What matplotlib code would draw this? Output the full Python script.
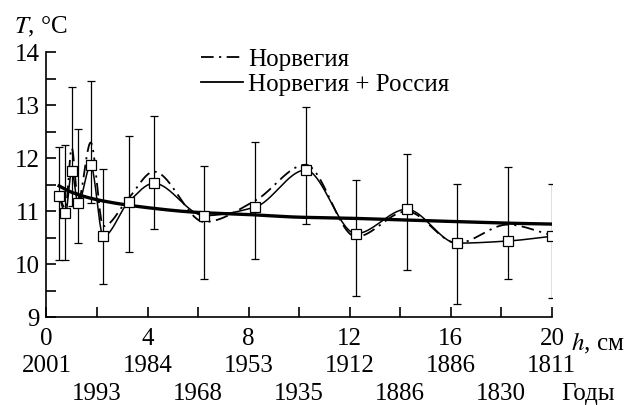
import numpy as np
import matplotlib
matplotlib.use("Agg")
import matplotlib.pyplot as plt
from matplotlib.ticker import MultipleLocator
from matplotlib.lines import Line2D

plt.rcParams['font.family'] = ['Liberation Serif', 'DejaVu Serif']
plt.rcParams['mathtext.fontset'] = 'stix'

# --- data ---
depth_cm = [0.5, 0.75, 1.0, 1.25, 1.75, 2.25, 3.25, 4.25, 6.25, 8.25, 10.25, 12.25, 14.25, 16.25, 18.25, 20.0]
temp_nor_rus = [11.29, 10.96, 11.76, 11.15, 11.87, 10.53, 11.18, 11.53, 10.92, 11.08, 11.78, 10.58, 11.04, 10.40, 10.44, 10.53]
err_low = [10.08, 10.09, 11.10, 10.41, 11.15, 9.63, 10.23, 10.67, 9.72, 10.11, 10.76, 9.41, 9.90, 9.26, 9.72, 9.37]
err_high = [12.22, 12.25, 13.34, 12.55, 13.46, 11.80, 12.43, 12.80, 11.85, 12.31, 12.97, 11.60, 12.08, 11.51, 11.84, 11.51]
temp_nor = [11.30, 11.05, 12.20, 11.20, 12.30, 10.72, 11.25, 11.75, 10.80, 11.20, 11.88, 10.52, 11.00, 10.40, 10.75, 10.55]

trend_x = [0.5, 1, 2, 4, 6, 8, 10, 12, 14, 16, 18, 20]
trend_t = [11.48, 11.36, 11.22, 11.07, 10.98, 10.94, 10.89, 10.87, 10.84, 10.81, 10.78, 10.76]

tick_pos = [0, 4, 8, 12, 16, 20]
years_row1 = ["2001", "1984", "1953", "1912", "1886", "1811"]
mid_pos = [2, 6, 10, 14, 18]
years_row2 = ["1993", "1968", "1935", "1886", "1830"]

FS = 18


def smooth(x, y, n=800):
    # monotone cubic (PCHIP-style) curve through the nodes, for drawing only
    x = np.asarray(x, float)
    y = np.asarray(y, float)
    h = np.diff(x)
    d = np.diff(y) / h
    m = np.zeros_like(y)
    for i in range(1, len(x) - 1):
        if d[i - 1] * d[i] > 0:
            w1 = 2 * h[i] + h[i - 1]
            w2 = h[i] + 2 * h[i - 1]
            m[i] = (w1 + w2) / (w1 / d[i - 1] + w2 / d[i])
    m[0] = d[0]
    m[-1] = d[-1]
    xs = np.linspace(x[0], x[-1], n)
    idx = np.clip(np.searchsorted(x, xs) - 1, 0, len(x) - 2)
    t = (xs - x[idx]) / h[idx]
    h00 = 2 * t ** 3 - 3 * t ** 2 + 1
    h10 = t ** 3 - 2 * t ** 2 + t
    h01 = -2 * t ** 3 + 3 * t ** 2
    h11 = t ** 3 - t ** 2
    ys = h00 * y[idx] + h10 * h[idx] * m[idx] + h01 * y[idx + 1] + h11 * h[idx] * m[idx + 1]
    return xs, ys


fig = plt.figure(figsize=(6.43, 4.05), dpi=100)
ax = fig.add_axes([0.0723, 0.2165, 0.786, 0.654])

yerr = [np.array(temp_nor_rus) - np.array(err_low), np.array(err_high) - np.array(temp_nor_rus)]
ax.errorbar(depth_cm, temp_nor_rus, yerr=yerr, fmt='none', ecolor='black',
            elinewidth=0.9, capsize=3, capthick=0.9, zorder=2)

xs, ys = smooth(depth_cm, temp_nor)
ax.plot(xs, ys, color='black', lw=1.3, dashes=(7, 3, 1.2, 3), zorder=3)
xs, ys = smooth(depth_cm, temp_nor_rus)
ax.plot(xs, ys, color='black', lw=1.1, zorder=3)
xs, ys = smooth(trend_x, trend_t)
ax.plot(xs, ys, color='black', lw=2.4, zorder=3)

ax.plot(depth_cm, temp_nor_rus, ls='none', marker='s', ms=6.5, mfc='white',
        mec='black', mew=0.9, zorder=4)

ax.set_xlim(0, 20)
ax.set_ylim(9, 14)
for s in ['top', 'right']:
    ax.spines[s].set_visible(False)
for s in ['left', 'bottom']:
    ax.spines[s].set_linewidth(1.2)

ax.set_xticks(tick_pos + mid_pos)
ax.set_xticklabels([str(p) for p in tick_pos] + [""] * len(mid_pos))
ax.yaxis.set_major_locator(MultipleLocator(1))
ax.yaxis.set_minor_locator(MultipleLocator(0.5))
ax.tick_params(axis='both', which='both', direction='in', width=1.2, labelsize=FS)
ax.tick_params(axis='x', length=7, pad=8)
ax.tick_params(axis='y', which='major', length=7, pad=5)
ax.tick_params(axis='y', which='minor', length=7)

tr = ax.get_xaxis_transform()
for p, yr in zip(tick_pos, years_row1):
    ax.text(p, -0.182, yr, transform=tr, ha='center', va='center', fontsize=FS, clip_on=False)
for p, yr in zip(mid_pos, years_row2):
    ax.text(p, -0.288, yr, transform=tr, ha='center', va='center', fontsize=FS, clip_on=False)
ax.text(21.45, -0.288, "Годы", transform=tr, ha='center', va='center', fontsize=FS, clip_on=False)
ax.text(20.75, -0.098, "$h$, см", transform=tr, ha='left', va='center', fontsize=FS, clip_on=False)

fig.text(14 / 643, 1 - 27 / 405, "$T$, °C", ha='left', va='center', fontsize=FS)

handles = [Line2D([], [], color='black', lw=1.3, dashes=(7, 3, 1.2, 3)),
           Line2D([], [], color='black', lw=1.3)]
ax.legend(handles, ["Норвегия", "Норвегия + Россия"], loc='upper left',
          bbox_to_anchor=(193 / 643, 1 - 41 / 405), bbox_transform=fig.transFigure,
          frameon=False, fontsize=FS, handlelength=1.7, handletextpad=0.2,
          labelspacing=0.08, borderpad=0.3, borderaxespad=0)

fig.savefig("out.png", dpi=100)
